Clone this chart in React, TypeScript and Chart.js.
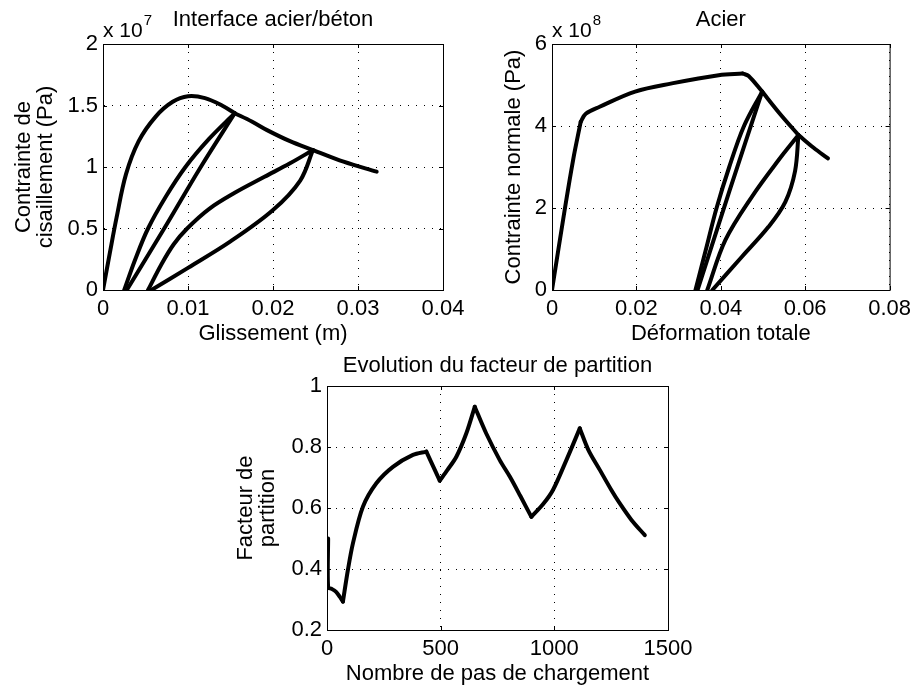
import React, { useEffect, useRef } from 'react';
import { Chart, registerables } from 'chart.js';

Chart.register(...registerables);

const FONT_FAMILY = '"Liberation Sans", Arial, Helvetica, sans-serif';
Chart.defaults.font.family = FONT_FAMILY;
Chart.defaults.color = '#000';

const PAGE_W = 917;
const PAGE_H = 689;

// ---------- Subplot 1 : Interface acier/béton (x: m, y: x 1e7 Pa) ----------
const shearTitle = 'Interface acier/béton';
const shearXTitle = 'Glissement (m)';
const shearYTitle = ['Contrainte de', 'cisaillement (Pa)'];
const shearExponent = '7';

const shearEnv1X = [0, 0.0008, 0.0016, 0.0027, 0.0042, 0.0062, 0.0082, 0.0100, 0.0120, 0.0140, 0.0155];
const shearEnv1Y = [0, 0.30, 0.59, 0.94, 1.21, 1.41, 1.53, 1.575, 1.56, 1.50, 1.437];
const shearLoop1DownX = [0.0155, 0.0125, 0.0097, 0.0074, 0.0053, 0.0038, 0.0025];
const shearLoop1DownY = [1.437, 1.23, 1.0, 0.76, 0.5, 0.25, 0];
const shearLoop1UpX = [0.0028, 0.0072, 0.0115, 0.0155];
const shearLoop1UpY = [0, 0.5, 1.0, 1.437];
const shearEnv2X = [0.0155, 0.0175, 0.0193, 0.0220, 0.0247];
const shearEnv2Y = [1.437, 1.37, 1.30, 1.21, 1.138];
const shearLoop2DownX = [0.0247, 0.0220, 0.0190, 0.0155, 0.0125, 0.0099, 0.0083, 0.0068, 0.0053];
const shearLoop2DownY = [1.138, 1.03, 0.92, 0.79, 0.66, 0.5, 0.37, 0.2, 0];
const shearLoop2UpX = [0.0057, 0.0100, 0.0150, 0.0200, 0.0232, 0.0247];
const shearLoop2UpY = [0, 0.18, 0.395, 0.65, 0.89, 1.138];
const shearEnv3X = [0.0247, 0.0283, 0.0322];
const shearEnv3Y = [1.138, 1.043, 0.962];

// ---------- Subplot 2 : Acier (x: strain, y: x 1e8 Pa) ----------
const steelTitle = 'Acier';
const steelXTitle = 'Déformation totale';
const steelYTitle = 'Contrainte normale (Pa)';
const steelExponent = '8';

const steelElasticX = [0, 0.0030, 0.0050, 0.0068];
const steelElasticY = [0, 1.95, 3.17, 4.1];
const steelHardenX = [0.0068, 0.0080, 0.0113, 0.0197, 0.0284, 0.0395, 0.0452];
const steelHardenY = [4.1, 4.30, 4.47, 4.84, 5.04, 5.24, 5.28];
const steelSoften1X = [0.0452, 0.0466, 0.0498];
const steelSoften1Y = [5.28, 5.22, 4.84];
const steelLoop1DownX = [0.0498, 0.0455, 0.0420, 0.0390, 0.0365, 0.0340];
const steelLoop1DownY = [4.84, 4.0, 3.0, 2.0, 1.0, 0];
const steelLoop1UpX = [0.0345, 0.0420, 0.0498];
const steelLoop1UpY = [0, 2.4, 4.84];
const steelSoften2X = [0.0498, 0.0540, 0.0584];
const steelSoften2Y = [4.84, 4.30, 3.78];
const steelLoop2DownX = [0.0584, 0.0537, 0.0474, 0.0411, 0.0368];
const steelLoop2DownY = [3.78, 3.17, 2.28, 1.22, 0];
const steelLoop2UpX = [0.0380, 0.0450, 0.0513, 0.0553, 0.0576, 0.0584];
const steelLoop2UpY = [0, 0.81, 1.54, 2.15, 2.9, 3.78];
const steelSoften3X = [0.0584, 0.0620, 0.0654];
const steelSoften3Y = [3.78, 3.47, 3.21];

// ---------- Subplot 3 : Evolution du facteur de partition ----------
const partTitle = 'Evolution du facteur de partition';
const partXTitle = 'Nombre de pas de chargement';
const partYTitle = ['Facteur de', 'partition'];

const partSeg0X = [5, 5, 20, 40, 55, 70];
const partSeg0Y = [0.50, 0.34, 0.335, 0.325, 0.31, 0.293];
const partSeg1X = [70, 92, 114, 158, 217, 290, 378, 437];
const partSeg1Y = [0.293, 0.397, 0.484, 0.604, 0.681, 0.735, 0.774, 0.785];
const partSeg2X = [437, 496];
const partSeg2Y = [0.785, 0.690];
const partSeg3X = [496, 530, 569, 613, 650];
const partSeg3Y = [0.690, 0.725, 0.768, 0.845, 0.932];
const partSeg4X = [650, 700, 760, 804, 850, 899];
const partSeg4Y = [0.932, 0.845, 0.757, 0.703, 0.640, 0.571];
const partSeg5X = [899, 950, 994, 1053, 1112];
const partSeg5Y = [0.571, 0.612, 0.659, 0.757, 0.861];
const partSeg6X = [1112, 1150, 1200, 1250, 1288, 1340, 1398];
const partSeg6Y = [0.861, 0.790, 0.725, 0.660, 0.615, 0.560, 0.511];

type Branch = { x: number[]; y: number[] };
const zip = (b: Branch) => b.x.map((x, i) => ({ x, y: b.y[i] }));

interface PanelSpec {
  title: string;
  xTitle: string;
  yTitle: string | string[];
  exponent?: string;
  branches: Branch[];
  tension: number;
  xMin: number; xMax: number; xStep: number;
  yMin: number; yMax: number; yStep: number;
  area: { left: number; top: number; right: number; bottom: number };
  layoutTop: number;
  titlePadBottom: number;
  yTitlePadTop: number;
}

const X_AXIS_H = 57;

const panels: PanelSpec[] = [
  {
    title: shearTitle, xTitle: shearXTitle, yTitle: shearYTitle, exponent: shearExponent,
    branches: [
      { x: shearEnv1X, y: shearEnv1Y },
      { x: shearLoop1DownX, y: shearLoop1DownY },
      { x: shearLoop1UpX, y: shearLoop1UpY },
      { x: shearEnv2X, y: shearEnv2Y },
      { x: shearLoop2DownX, y: shearLoop2DownY },
      { x: shearLoop2UpX, y: shearLoop2UpY },
      { x: shearEnv3X, y: shearEnv3Y },
    ],
    tension: 0.35,
    xMin: 0, xMax: 0.04, xStep: 0.01, yMin: 0, yMax: 2, yStep: 0.5,
    area: { left: 103, top: 44, right: 443, bottom: 290 },
    layoutTop: 6.3, titlePadBottom: 11.3, yTitlePadTop: 13.2,
  },
  {
    title: steelTitle, xTitle: steelXTitle, yTitle: steelYTitle, exponent: steelExponent,
    branches: [
      { x: steelElasticX, y: steelElasticY },
      { x: steelHardenX, y: steelHardenY },
      { x: steelSoften1X, y: steelSoften1Y },
      { x: steelLoop1DownX, y: steelLoop1DownY },
      { x: steelLoop1UpX, y: steelLoop1UpY },
      { x: steelSoften2X, y: steelSoften2Y },
      { x: steelLoop2DownX, y: steelLoop2DownY },
      { x: steelLoop2UpX, y: steelLoop2UpY },
      { x: steelSoften3X, y: steelSoften3Y },
    ],
    tension: 0.35,
    xMin: 0, xMax: 0.08, xStep: 0.02, yMin: 0, yMax: 6, yStep: 2,
    area: { left: 552, top: 44, right: 892, bottom: 290 },
    layoutTop: 6.3, titlePadBottom: 11.3, yTitlePadTop: 503.2,
  },
  {
    title: partTitle, xTitle: partXTitle, yTitle: partYTitle,
    branches: [
      { x: partSeg0X, y: partSeg0Y },
      { x: partSeg1X, y: partSeg1Y },
      { x: partSeg2X, y: partSeg2Y },
      { x: partSeg3X, y: partSeg3Y },
      { x: partSeg4X, y: partSeg4Y },
      { x: partSeg5X, y: partSeg5Y },
      { x: partSeg6X, y: partSeg6Y },
    ],
    tension: 0.3,
    xMin: 0, xMax: 1500, xStep: 500, yMin: 0.2, yMax: 1, yStep: 0.2,
    area: { left: 327, top: 386, right: 668, bottom: 630 },
    layoutTop: 352.6, titlePadBottom: 7, yTitlePadTop: 234.8,
  },
];

const fmtTick = (v: any) => String(parseFloat(Number(v).toFixed(6)));

const matlabAxes = {
  id: 'matlabAxes',
  beforeDatasetsDraw(chart: any) {
    const { ctx, chartArea: a } = chart;
    const xs = chart.scales.x;
    const ys = chart.scales.y;
    const len = 4;
    ctx.save();
    ctx.setLineDash([]);
    ctx.strokeStyle = '#000';
    ctx.lineWidth = 1;
    ctx.strokeRect(a.left + 0.5, a.top + 0.5, a.right - a.left, a.bottom - a.top);
    ctx.beginPath();
    xs.ticks.forEach((t: any) => {
      const px = Math.round(xs.getPixelForValue(t.value)) + 0.5;
      ctx.moveTo(px, a.bottom); ctx.lineTo(px, a.bottom - len);
      ctx.moveTo(px, a.top); ctx.lineTo(px, a.top + len);
    });
    ys.ticks.forEach((t: any) => {
      const py = Math.round(ys.getPixelForValue(t.value)) + 0.5;
      ctx.moveTo(a.left, py); ctx.lineTo(a.left + len, py);
      ctx.moveTo(a.right, py); ctx.lineTo(a.right - len, py);
    });
    ctx.stroke();
    ctx.restore();
  },
  afterDraw(chart: any, _args: any, opts: any) {
    if (!opts || !opts.exponent) return;
    const { ctx, chartArea: a } = chart;
    ctx.save();
    ctx.fillStyle = '#000';
    ctx.textAlign = 'left';
    ctx.textBaseline = 'alphabetic';
    ctx.font = `21px ${FONT_FAMILY}`;
    const base = 'x 10';
    ctx.fillText(base, a.left, a.top - 7.3);
    const w = ctx.measureText(base).width;
    ctx.font = `15px ${FONT_FAMILY}`;
    ctx.fillText(opts.exponent, a.left + w + 1, a.top - 19.5);
    ctx.restore();
  },
};

function buildConfig(spec: PanelSpec): any {
  const tickFont = { size: 22, family: FONT_FAMILY, lineHeight: 1.2 };
  const titleFont = { size: 22, family: FONT_FAMILY, lineHeight: 1.2 };
  const grid = { color: '#000', lineWidth: 1, drawTicks: false };
  const border = { display: true, color: '#000', width: 1, dash: [1, 7] };
  return {
    type: 'scatter',
    data: {
      datasets: spec.branches.map((b) => ({
        data: zip(b),
        showLine: true,
        borderColor: '#000',
        backgroundColor: '#000',
        borderWidth: 4,
        pointRadius: 0,
        pointHoverRadius: 0,
        tension: spec.tension,
        fill: false,
        borderCapStyle: 'round',
        borderJoinStyle: 'round',
      })),
    },
    options: {
      responsive: false,
      animation: false,
      events: [],
      layout: {
        padding: {
          left: 0,
          top: spec.layoutTop,
          right: PAGE_W - spec.area.right,
          bottom: PAGE_H - spec.area.bottom - X_AXIS_H,
        },
      },
      plugins: {
        legend: { display: false },
        tooltip: { enabled: false },
        title: {
          display: true,
          text: spec.title,
          color: '#000',
          fullSize: false,
          font: { ...titleFont, weight: 'normal' },
          padding: { top: 0, bottom: spec.titlePadBottom },
        },
        matlabAxes: { exponent: spec.exponent },
      },
      scales: {
        x: {
          type: 'linear',
          position: 'bottom',
          min: spec.xMin,
          max: spec.xMax,
          grid,
          border,
          ticks: { stepSize: spec.xStep, font: tickFont, color: '#000', padding: 6, maxRotation: 0, autoSkip: false, callback: fmtTick },
          title: {
            display: true,
            text: spec.xTitle,
            color: '#000',
            font: titleFont,
            padding: { top: 0, bottom: 0 },
          },
          afterFit: (s: any) => { s.height = X_AXIS_H; },
        },
        y: {
          type: 'linear',
          position: 'left',
          min: spec.yMin,
          max: spec.yMax,
          grid,
          border,
          ticks: { stepSize: spec.yStep, font: tickFont, color: '#000', padding: 5, autoSkip: false, callback: fmtTick },
          title: {
            display: true,
            text: spec.yTitle,
            color: '#000',
            font: { size: 22, family: FONT_FAMILY, lineHeight: 1.0 },
            padding: { top: spec.yTitlePadTop, bottom: 0 },
          },
          afterFit: (s: any) => { s.width = spec.area.left; },
        },
      },
    },
    plugins: [matlabAxes],
  };
}

function Panel({ spec }: { spec: PanelSpec }) {
  const ref = useRef<HTMLCanvasElement>(null);
  useEffect(() => {
    if (!ref.current) return;
    const chart = new Chart(ref.current, buildConfig(spec));
    return () => chart.destroy();
  }, [spec]);
  return (
    <canvas
      ref={ref}
      width={PAGE_W}
      height={PAGE_H}
      style={{ position: 'absolute', left: 0, top: 0, width: PAGE_W, height: PAGE_H }}
    />
  );
}

export default function App() {
  return (
    <div style={{ position: 'absolute', left: 0, top: 0, width: PAGE_W, height: PAGE_H, background: '#fff' }}>
      {panels.map((p, i) => (
        <Panel key={i} spec={p} />
      ))}
    </div>
  );
}
